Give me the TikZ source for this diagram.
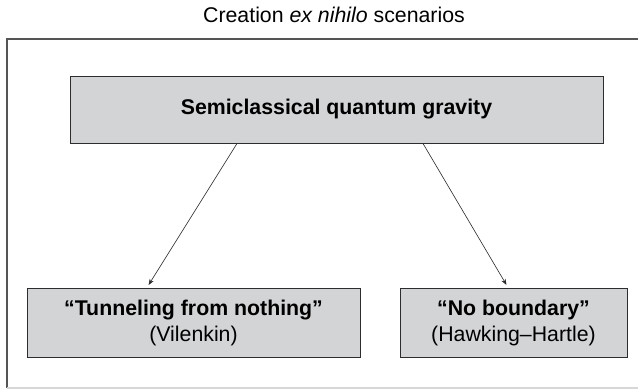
\documentclass[tikz,border=0pt]{standalone}
\usepackage{fontspec}
\setmainfont{Liberation Sans}
\usetikzlibrary{arrows.meta}
\definecolor{boxfill}{RGB}{211,212,214}
\definecolor{boxline}{RGB}{45,45,45}
\definecolor{frameline}{RGB}{85,85,85}
\definecolor{framelight}{RGB}{215,215,215}
\begin{document}
\begin{tikzpicture}[x=1pt,y=-1pt,
  every node/.style={font=\fontsize{21.3}{26}\selectfont, inner sep=0pt},
  gbox/.style={draw=boxline, line width=1pt, fill=boxfill, align=center},
  arr/.style={-{Stealth[length=6pt,width=4.5pt]}, line width=0.6pt, black!85}
]
\useasboundingbox (0,0) rectangle (638,391);
% outer frame
\draw[frameline, line width=1.2pt] (7,388) -- (7,39) -- (638,39);
\draw[framelight, line width=1.2pt] (7,388) -- (638,388);
% title
\node[anchor=base] (title) at (334,22) {Creation \textit{ex nihilo} scenarios};
% boxes
\node[gbox, minimum width=533pt, minimum height=67pt] (top) at (336.5,109.5) {\textbf{Semiclassical quantum gravity}};
\node[gbox, minimum width=333pt, minimum height=69pt] (left) at (193.5,322.5) {\textbf{“Tunneling from nothing”}\\(Vilenkin)};
\node[gbox, minimum width=227pt, minimum height=69pt] (right) at (513.5,322.5) {\textbf{“No boundary”}\\(Hawking–Hartle)};
% arrows
\draw[arr, shorten >=3pt] ([xshift=-99.5pt]top.south) -- ([xshift=-46.5pt]left.north);
\draw[arr, shorten >=3pt] ([xshift=86.5pt]top.south) -- ([xshift=-5.5pt]right.north);
\end{tikzpicture}
\end{document}
